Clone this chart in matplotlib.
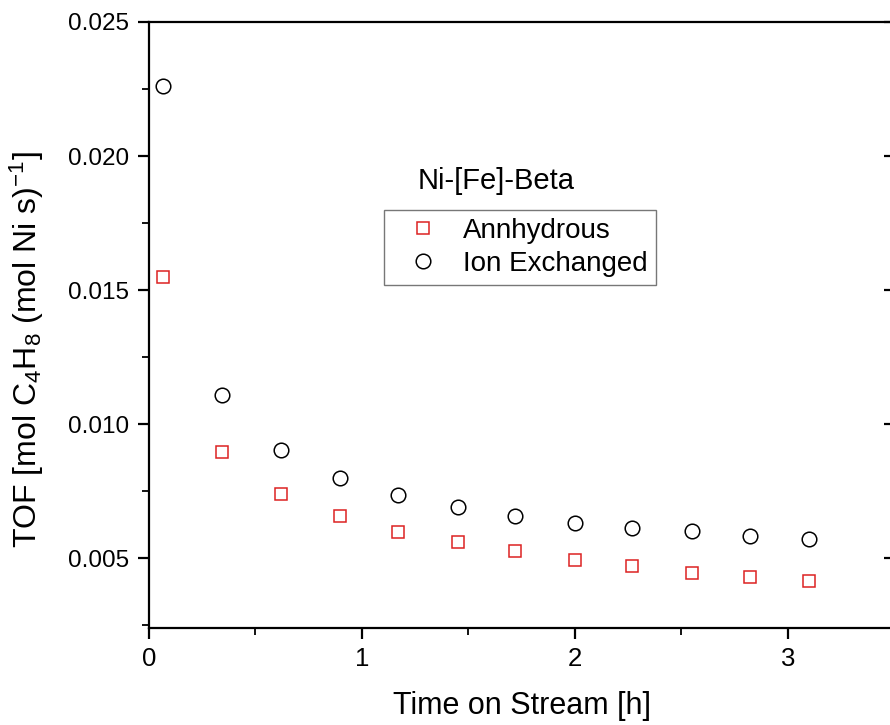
import matplotlib
matplotlib.use("Agg")
import matplotlib.pyplot as plt
from matplotlib.ticker import MultipleLocator, FormatStrFormatter, NullLocator

plt.rcParams['font.family'] = ['Liberation Sans', 'DejaVu Sans']
plt.rcParams['mathtext.default'] = 'regular'

# tempo sul flusso [h]
tempo = [0.067, 0.344, 0.62, 0.897, 1.17, 1.45, 1.72, 2.0, 2.27, 2.55, 2.82, 3.1]

# TOF dei due campioni
anidro = [0.0155, 0.00895, 0.0074, 0.00658, 0.00598, 0.0056,
          0.00526, 0.00492, 0.0047, 0.00444, 0.00432, 0.00414]
scambio_ionico = [0.0226, 0.0111, 0.00903, 0.00798, 0.00735, 0.00692,
                  0.00658, 0.00632, 0.00613, 0.00602, 0.00583, 0.00571]

fig = plt.figure(figsize=(8.9, 7.25), dpi=100)
ax = fig.add_axes([0.1674, 0.1338, 0.8376, 0.8359])

ax.plot(tempo, anidro, linestyle="none", marker="s", markersize=9.3,
        markerfacecolor="none", markeredgecolor="#dd2222", markeredgewidth=1.1,
        label="Annhydrous")
ax.plot(tempo, scambio_ionico, linestyle="none", marker="o", markersize=10.5,
        markerfacecolor="none", markeredgecolor="black", markeredgewidth=1.1,
        label="Ion Exchanged")

ax.set_xlim(0, 3.5)
ax.set_ylim(0.0024, 0.025)

ax.xaxis.set_major_locator(MultipleLocator(1))
ax.xaxis.set_minor_locator(MultipleLocator(0.5))
ax.yaxis.set_major_locator(MultipleLocator(0.005))
ax.yaxis.set_minor_locator(MultipleLocator(0.0025))
ax.yaxis.set_major_formatter(FormatStrFormatter("%.3f"))

for s in ax.spines.values():
    s.set_linewidth(1.6)

ax.tick_params(which="major", direction="out", length=8, width=1.6, labelsize=17.5)
ax.tick_params(which="minor", direction="out", length=5, width=1.3)
ax.tick_params(axis="y", which="major", pad=6.5)
ax.tick_params(axis="x", which="major", pad=6, labelsize=18.5)

# tacche a destra verso l'interno
dx = ax.secondary_yaxis("right")
dx.yaxis.set_major_locator(MultipleLocator(0.005))
dx.yaxis.set_minor_locator(NullLocator())
dx.tick_params(direction="in", length=7, width=1.6, labelright=False)
dx.spines["right"].set_linewidth(1.6)

ax.set_xlabel("Time on Stream [h]", fontsize=22, labelpad=14)
ax.set_ylabel(r"TOF [mol C$_4$H$_8$ (mol Ni s)$^{-1}$]", fontsize=23)
ax.yaxis.set_label_coords(-0.138, 0.46)

ax.text(0.466, 0.737, "Ni-[Fe]-Beta", transform=ax.transAxes, fontsize=21,
        ha="center", va="center")
leg = ax.legend(loc="upper left", bbox_to_anchor=(0.315, 0.69), fontsize=20,
                frameon=True, fancybox=False, edgecolor="#555555",
                borderpad=0.3, handletextpad=0.36, labelspacing=0.25,
                handlelength=2.2, borderaxespad=0)
leg.get_frame().set_linewidth(1.0)

fig.savefig("out.png", dpi=100)
